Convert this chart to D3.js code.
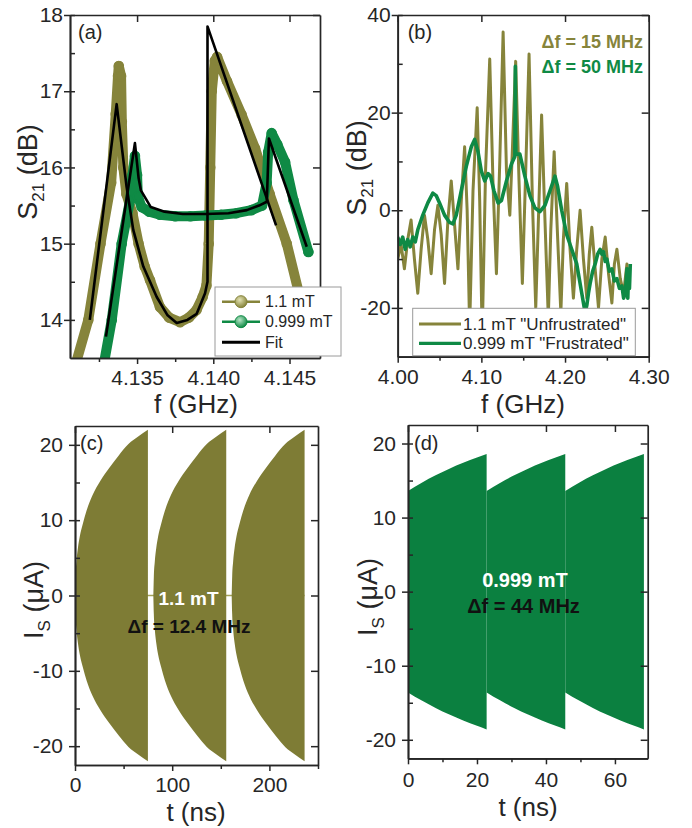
<!DOCTYPE html>
<html>
<head>
<meta charset="utf-8">
<script src="https://cdn.jsdelivr.net/npm/d3@7"></script>
<style>
  body { margin: 0; background: #fff; }
  svg text { font-family: "Liberation Sans", Arial, Helvetica, sans-serif; }
</style>
</head>
<body>
<script>
// ---------------- data ----------------
// (a) transmission S21 (dB) vs f (GHz), measured points [f, S21]
const a_unfrus = [
  [4.1308,13.3],[4.1318,14.0],[4.1326,15.0],[4.1333,15.8],[4.1336,16.7],[4.13375,17.2],
  [4.1338,17.33],[4.13395,17.2],[4.1340,16.6],[4.1341,16.0],[4.1343,15.65],[4.1347,15.4],
  [4.1351,15.0],[4.1355,14.7],[4.13585,14.52],[4.1365,14.17],[4.1371,14.03],[4.13782,13.97],
  [4.1384,14.03],[4.1389,14.13],[4.1393,14.3],[4.13955,14.45],[4.1397,15.0],[4.1398,16.0],
  [4.1399,17.0],[4.1401,17.4],[4.14025,17.45],[4.1409,17.13],[4.14186,16.69],[4.14274,16.25],
  [4.1433,15.9],[4.1437,15.65],[4.14482,15.0],[4.14558,14.38],[4.1462,13.8]
];
const a_frus = [
  [4.1328,13.4],[4.13334,14.0],[4.13399,15.0],[4.13454,15.57],[4.1347,15.9],[4.13486,16.15],
  [4.1350,15.9],[4.13505,15.62],[4.1353,15.48],[4.1358,15.42],[4.1365,15.38],[4.1375,15.36],
  [4.1385,15.36],[4.1395,15.37],[4.1405,15.38],[4.1415,15.40],[4.1425,15.44],[4.1432,15.5],
  [4.1435,15.8],[4.1436,16.2],[4.14383,16.45],[4.1442,16.3],[4.14471,16.07],[4.14526,15.57],
  [4.14624,14.89]
];
const a_fit1 = [
  [4.1319,14.0],[4.13366,16.83],[4.13431,15.75],[4.13475,15.18],[4.13541,14.70],[4.13629,14.30],
  [4.1370,14.06],[4.1376,13.96],[4.1383,14.0],[4.13891,14.08],[4.13946,14.35],[4.13962,14.5],
  [4.13962,17.85],[4.14412,15.24]
];
const a_fit2 = [
  [4.13296,13.78],[4.13486,16.32],[4.1351,15.86],[4.13525,15.70],[4.1359,15.48],[4.1368,15.42],
  [4.1380,15.39],[4.1395,15.39],[4.1410,15.40],[4.1422,15.44],[4.1430,15.50],[4.14351,15.55],
  [4.14365,16.38],[4.14613,14.96]
];
const a_xTicks = [4.135, 4.140, 4.145];
const a_xMinor = [4.1325, 4.1375, 4.1425];
const a_yTicks = [14, 15, 16, 17, 18];
const a_yMinor = [14.5, 15.5, 16.5, 17.5];
const a_legend = ["1.1 mT", "0.999 mT", "Fit"];

// (b) wide-band S21 (dB) vs f (GHz)
const b_unfrus = [
  [4.000,-10],[4.004,-7],[4.008,-12],[4.012,-6],[4.016,-2],[4.020,-10],[4.024,-17],[4.028,-8],
  [4.032,-1],[4.036,-6],[4.040,-13],[4.044,-4],[4.048,1],[4.052,-5],[4.056,-15],[4.060,-2],
  [4.064,6],[4.068,-3],[4.072,-12],[4.076,2],[4.080,13],[4.083,0],[4.086,-24],[4.090,4],
  [4.095,21],[4.098,2],[4.101,-26],[4.105,8],[4.110,31],[4.114,5],[4.118,-13],[4.122,10],
  [4.126,36.5],[4.130,8],[4.134,-1],[4.137,12],[4.141,30.5],[4.145,6],[4.149,-15],[4.153,8],
  [4.157,32],[4.161,2],[4.165,-20],[4.168,-3],[4.172,19.5],[4.176,-2],[4.180,-22],[4.183,-4],
  [4.187,12],[4.191,-5],[4.195,-21],[4.198,-6],[4.202,5.5],[4.206,-8],[4.210,-18],[4.214,-8],
  [4.218,0],[4.222,-10],[4.226,-18],[4.229,-9],[4.232,-3.5],[4.236,-12],[4.240,-20],[4.244,-10],
  [4.248,-5.5],[4.252,-13],[4.256,-19],[4.259,-11],[4.262,-8],[4.266,-14],[4.270,-17],[4.274,-11],
  [4.276,-16]
];
const b_frus = [
  [4.000,-5.5],[4.003,-7],[4.006,-5.5],[4.009,-8],[4.012,-6],[4.015,-7.5],[4.018,-5.5],
  [4.021,-6.5],[4.024,-4],[4.030,-1],[4.036,1.5],[4.042,3.5],[4.046,3.0],[4.050,1.5],
  [4.056,-1],[4.062,-2.5],[4.066,-2.8],[4.070,-1],[4.076,4],[4.082,9],[4.088,13],[4.092,14.5],
  [4.096,12],[4.100,8],[4.104,6],[4.108,7.5],[4.111,7],[4.115,4],[4.120,1.5],[4.124,2],
  [4.130,6],[4.136,9.5],[4.140,11],[4.1406,29.5],[4.1412,11.5],[4.146,11.5],[4.152,7],
  [4.158,3],[4.164,0.5],[4.170,-0.3],[4.176,1],[4.182,4],[4.188,7],[4.191,5],[4.196,0],
  [4.202,-5],[4.205,-6.5],[4.208,-8],[4.211,-9.5],[4.214,-11],[4.216,-13],[4.218,-15],
  [4.220,-17],[4.222,-19],[4.224,-21],[4.226,-19.5],[4.228,-17],[4.230,-15],[4.233,-12.5],
  [4.236,-11],[4.239,-9],[4.242,-8],[4.244,-9],[4.246,-8.5],[4.248,-10.5],[4.250,-10],
  [4.253,-12.5],[4.256,-12],[4.259,-14.5],[4.262,-14],[4.265,-16],[4.268,-15.5],[4.270,-18],
  [4.272,-17],[4.274,-12],[4.275,-18],[4.276,-13],[4.277,-16],[4.278,-11]
];
const b_xTicks = [4.00, 4.10, 4.20, 4.30];
const b_xMinor = [4.05, 4.15, 4.25];
const b_yTicks = [-20, 0, 20, 40];
const b_yMinor = [-10, 10, 30];
const b_legend = ['1.1 mT "Unfrustrated"', '0.999 mT "Frustrated"'];
const b_notes = ["\u0394f = 15 MHz", "\u0394f = 50 MHz"];

// (c) supercurrent envelope, 1.1 mT: burst time (ns) and amplitude (uA)
const c_envT = [0, 0.5, 1.5, 3, 5, 8, 12, 18, 26, 35, 45, 55, 65, 75];
const c_envA = [0, 2.5, 4.5, 6.3, 7.9, 9.5, 11.3, 13.3, 15.2, 16.9, 18.6, 20.1, 21.1, 22.0];
const c_starts = [0, 80.6, 161.2];
const c_xTicks = [0, 100, 200];
const c_xMinor = [50, 150, 250];
const c_yTicks = [-20, -10, 0, 10, 20];
const c_yMinor = [-15, -5, 5, 15];
const c_notes = ["1.1 mT", "\u0394f = 12.4 MHz"];

// (d) supercurrent envelope, 0.999 mT
const d_envT = [0, 4, 8, 12, 16, 20, 22.8];
const d_envA = [13.6, 14.7, 15.7, 16.6, 17.4, 18.1, 18.6];
const d_starts = [0, 22.8, 45.6];
const d_xTicks = [0, 20, 40, 60];
const d_xMinor = [10, 30, 50];
const d_yTicks = [-20, -10, 0, 10, 20];
const d_yMinor = [-15, -5, 5, 15];
const d_notes = ["0.999 mT", "\u0394f = 44 MHz"];

// ---------------- styling ----------------
const OLIVE = "#86843b";
const OLIVE_FILL = "#7e7c35";
const GREEN = "#0f8a45";
const GREEN_FILL = "#0b8040";
const AX = "#262626";

const svg = d3.select("body").append("svg")
  .attr("width", 692).attr("height", 828);
const defs = svg.append("defs");

function sphere(id, light, dark) {
  const g = defs.append("radialGradient").attr("id", id)
    .attr("cx", "40%").attr("cy", "35%").attr("r", "65%");
  g.append("stop").attr("offset", "0%").attr("stop-color", light);
  g.append("stop").attr("offset", "100%").attr("stop-color", dark);
}
sphere("sphOlive", "#e4e3b4", OLIVE);
sphere("sphGreen", "#b9e6c8", GREEN);

let clipN = 0;
function panel(cfg) {
  const x = d3.scaleLinear().domain(cfg.xDom).range([cfg.l, cfg.r]);
  const y = d3.scaleLinear().domain(cfg.yDom).range([cfg.b, cfg.t]);
  const id = "clip" + (clipN++);
  defs.append("clipPath").attr("id", id).append("rect")
    .attr("x", cfg.l).attr("y", cfg.t).attr("width", cfg.r - cfg.l).attr("height", cfg.b - cfg.t);
  const plot = svg.append("g").attr("clip-path", `url(#${id})`);
  return { x, y, plot, cfg };
}

function axes(p) {
  const { x, y, cfg } = p;
  const g = svg.append("g");
  const style = sel => {
    sel.selectAll("path.domain").attr("stroke", AX).attr("stroke-width", 1.7);
    sel.selectAll("line").attr("stroke", AX).attr("stroke-width", 1.5);
    sel.attr("font-size", 21).attr("font-family", null);
    sel.selectAll("text").attr("fill", AX);
  };
  g.append("g").attr("transform", `translate(0,${cfg.b})`)
    .call(d3.axisBottom(x).tickValues(cfg.xMinor).tickSize(4).tickSizeOuter(0).tickFormat(""))
    .call(style);
  g.append("g").attr("transform", `translate(0,${cfg.b})`)
    .call(d3.axisBottom(x).tickValues(cfg.xTicks).tickSize(6).tickSizeOuter(0)
      .tickPadding(cfg.xPad).tickFormat(cfg.xFmt))
    .call(style);
  g.append("g").attr("transform", `translate(0,${cfg.t})`)
    .call(d3.axisTop(x).tickValues(cfg.xTicks).tickSize(-7).tickSizeOuter(0).tickFormat(""))
    .call(style);
  g.append("g").attr("transform", `translate(${cfg.l},0)`)
    .call(d3.axisLeft(y).tickValues(cfg.yTicks.concat(cfg.yMinor)).tickSize(-5).tickSizeOuter(0).tickFormat(""))
    .call(style);
  g.append("g").attr("transform", `translate(${cfg.l},0)`)
    .call(d3.axisLeft(y).tickValues(cfg.yTicks).tickSize(6).tickSizeOuter(0)
      .tickPadding(cfg.yPad).tickFormat(d => String(d)))
    .call(style);
  g.append("g").attr("transform", `translate(${cfg.r},0)`)
    .call(d3.axisRight(y).tickValues(cfg.yTicks).tickSize(-7).tickSizeOuter(0).tickFormat(""))
    .call(style);
  return g;
}

function xTitle(cx, by, txt) {
  svg.append("text").attr("x", cx).attr("y", by).attr("text-anchor", "middle")
    .attr("font-size", 26).attr("fill", AX).text(txt);
}
function yTitle(bx, cy, main, sub, rest) {
  const t = svg.append("text").attr("transform", `translate(${bx},${cy}) rotate(-90)`)
    .attr("text-anchor", "middle").attr("font-size", 27).attr("fill", AX);
  t.append("tspan").text(main);
  t.append("tspan").attr("font-size", 17).attr("dy", 7).text(sub);
  t.append("tspan").attr("dy", -7).text(rest);
}
function tag(x0, y0, txt) {
  svg.append("text").attr("x", x0).attr("y", y0).attr("font-size", 20).attr("fill", AX).text(txt);
}

// ---------------- (a) ----------------
const pa = panel({ l: 70, r: 320, t: 15, b: 358, xDom: [4.1306, 4.147], yDom: [13.5, 18],
  xTicks: a_xTicks, xMinor: a_xMinor, yTicks: a_yTicks, yMinor: a_yMinor,
  xFmt: d3.format(".3f"), xPad: 6.5, yPad: 1 });
{
  const line = d3.line().x(d => pa.x(d[0])).y(d => pa.y(d[1]));
  [[a_unfrus, OLIVE], [a_frus, GREEN]].forEach(([data, col]) => {
    pa.plot.append("path").datum(data).attr("d", line).attr("fill", "none")
      .attr("stroke", col).attr("stroke-width", 10)
      .attr("stroke-linejoin", "round").attr("stroke-linecap", "round");
    pa.plot.selectAll(null).data(data).enter().append("circle")
      .attr("cx", d => pa.x(d[0])).attr("cy", d => pa.y(d[1])).attr("r", 4.5)
      .attr("fill", "none").attr("stroke", col).attr("stroke-width", 1.6);
  });
  [a_fit1, a_fit2].forEach(data => {
    pa.plot.append("path").datum(data).attr("d", line).attr("fill", "none")
      .attr("stroke", "#000").attr("stroke-width", 2.6).attr("stroke-linejoin", "round");
  });
}
axes(pa);
tag(78, 39, "(a)");
xTitle(196, 413, "f (GHz)");
yTitle(37, 172, "S", "21", " (dB)");
{
  const lg = svg.append("g");
  lg.append("rect").attr("x", 215).attr("y", 287).attr("width", 126).attr("height", 69)
    .attr("fill", "#fff").attr("stroke", "#9a9a9a").attr("stroke-width", 1);
  const rows = [301.7, 321.7, 342.3];
  const cols = [OLIVE, GREEN, "#000"];
  const sph = ["url(#sphOlive)", "url(#sphGreen)", null];
  a_legend.forEach((name, i) => {
    lg.append("line").attr("x1", 222).attr("x2", 260).attr("y1", rows[i]).attr("y2", rows[i])
      .attr("stroke", cols[i]).attr("stroke-width", i === 2 ? 3 : 2.5);
    if (sph[i]) lg.append("circle").attr("cx", 241).attr("cy", rows[i]).attr("r", 6)
      .attr("fill", sph[i]).attr("stroke", cols[i]).attr("stroke-width", 1);
    lg.append("text").attr("x", 265).attr("y", rows[i]).attr("dy", "0.35em")
      .attr("font-size", 16).attr("fill", AX).text(name);
  });
}

// ---------------- (b) ----------------
const pb = panel({ l: 397.7, r: 648.7, t: 15, b: 356.7, xDom: [4.00, 4.30], yDom: [-30, 40],
  xTicks: b_xTicks, xMinor: b_xMinor, yTicks: b_yTicks, yMinor: b_yMinor,
  xFmt: d3.format(".2f"), xPad: 6.5, yPad: 1 });
{
  const line = d3.line().x(d => pb.x(d[0])).y(d => pb.y(d[1]));
  pb.plot.append("path").datum(b_unfrus).attr("d", line).attr("fill", "none")
    .attr("stroke", OLIVE).attr("stroke-width", 3).attr("stroke-linejoin", "round");
  pb.plot.append("path").datum(b_frus).attr("d", line).attr("fill", "none")
    .attr("stroke", GREEN).attr("stroke-width", 3.6).attr("stroke-linejoin", "round");
}
axes(pb);
tag(407.7, 39, "(b)");
xTitle(523, 413, "f (GHz)");
yTitle(366, 168, "S", "21", " (dB)");
svg.append("text").attr("x", 643).attr("y", 48).attr("text-anchor", "end")
  .attr("font-size", 18).attr("font-weight", "bold").attr("fill", OLIVE).text(b_notes[0]);
svg.append("text").attr("x", 643).attr("y", 73).attr("text-anchor", "end")
  .attr("font-size", 18).attr("font-weight", "bold").attr("fill", GREEN).text(b_notes[1]);
{
  const lg = svg.append("g");
  lg.append("rect").attr("x", 412.7).attr("y", 308.3).attr("width", 222.6).attr("height", 47.4)
    .attr("fill", "#fff").attr("stroke", "#9a9a9a").attr("stroke-width", 1);
  const rows = [324, 343.3];
  const cols = [OLIVE, GREEN];
  b_legend.forEach((name, i) => {
    lg.append("line").attr("x1", 419).attr("x2", 461).attr("y1", rows[i]).attr("y2", rows[i])
      .attr("stroke", cols[i]).attr("stroke-width", 3.2);
    lg.append("text").attr("x", 463).attr("y", rows[i]).attr("dy", "0.35em")
      .attr("font-size", 17).attr("fill", AX).text(name);
  });
}

// ---------------- burst envelopes (c), (d) ----------------
function bursts(p, envT, envA, starts, fill) {
  starts.forEach(s => {
    const pts = envT.map((t, i) => [s + t, envA[i]]);
    const area = d3.area().curve(d3.curveMonotoneX)
      .x(d => p.x(d[0])).y0(d => p.y(-d[1])).y1(d => p.y(d[1]));
    p.plot.append("path").datum(pts).attr("d", area).attr("fill", fill);
  });
}

const pc = panel({ l: 75, r: 318, t: 426, b: 765, xDom: [0, 250], yDom: [-22.5, 22.5],
  xTicks: c_xTicks, xMinor: c_xMinor, yTicks: c_yTicks, yMinor: c_yMinor,
  xFmt: d => String(d), xPad: 6, yPad: 6 });
{
  const last = c_starts[c_starts.length - 1] + c_envT[c_envT.length - 1];
  pc.plot.append("line").attr("x1", pc.x(0)).attr("x2", pc.x(last))
    .attr("y1", pc.y(0)).attr("y2", pc.y(0)).attr("stroke", "#a4a25a").attr("stroke-width", 1.6);
  bursts(pc, c_envT, c_envA, c_starts, OLIVE_FILL);
}
axes(pc);
tag(80, 450, "(c)");
xTitle(196, 821, "t (ns)");
yTitle(43, 600, "I", "S", " (\u03bcA)");
svg.append("text").attr("x", 188.5).attr("y", 605).attr("text-anchor", "middle")
  .attr("font-size", 19).attr("font-weight", "bold").attr("fill", "#fff").text(c_notes[0]);
svg.append("text").attr("x", 189).attr("y", 633).attr("text-anchor", "middle")
  .attr("font-size", 19).attr("font-weight", "bold").attr("fill", "#111").text(c_notes[1]);

const pd = panel({ l: 408, r: 647.7, t: 425, b: 758.3, xDom: [0, 69.5], yDom: [-22.5, 22.5],
  xTicks: d_xTicks, xMinor: d_xMinor, yTicks: d_yTicks, yMinor: d_yMinor,
  xFmt: d => String(d), xPad: 7.5, yPad: 6 });
bursts(pd, d_envT, d_envA, d_starts, GREEN_FILL);
axes(pd);
tag(414, 450, "(d)");
xTitle(528, 816, "t (ns)");
yTitle(377, 597, "I", "S", " (\u03bcA)");
svg.append("text").attr("x", 525).attr("y", 587).attr("text-anchor", "middle")
  .attr("font-size", 20).attr("font-weight", "bold").attr("fill", "#fff").text(d_notes[0]);
svg.append("text").attr("x", 523.5).attr("y", 613).attr("text-anchor", "middle")
  .attr("font-size", 20).attr("font-weight", "bold").attr("fill", "#111").text(d_notes[1]);
</script>
</body>
</html>
